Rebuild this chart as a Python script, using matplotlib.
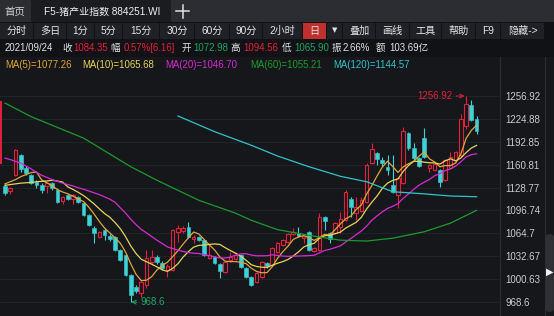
import numpy as np
import pandas as pd
import matplotlib
matplotlib.use('Agg')
import matplotlib.pyplot as plt
from matplotlib.patches import Rectangle, FancyBboxPatch
from matplotlib.lines import Line2D

plt.rcParams['font.family'] = ['Liberation Sans', 'Noto Sans CJK SC', 'DejaVu Sans']

W, H = 554, 316

# daily candles (visible window, 91 days)
opens = [1131, 1124, 1146.4, 1174.4, 1156.2, 1146.4, 1136.6, 1132.4, 1131, 1135.2,
         1125.4, 1110, 1118.4, 1112.8, 1115.6, 1107.2, 1090.4, 1072.2, 1059.6, 1069.4,
         1061, 1059.6, 1041.5, 1034.5, 1006.5, 989.7, 981.3, 992.5, 1024.7, 1031.7,
         1023.3, 1013.5, 1013.5, 1066.6, 1068, 1073.6, 1056.8, 1059.6, 1055.4, 1030.3,
         1031.7, 1021.9, 1010.7, 1027.5, 1028.9, 1034.5, 1016.3, 1003.7, 996.7, 1003.7,
         1023.3, 1020.5, 1038.7, 1048.5, 1052.7, 1063.8, 1065.2, 1058.2, 1066.6, 1040.1,
         1041.5, 1087.6, 1065.2, 1065.2, 1072.98, 1083.4, 1112.8, 1093.2, 1096, 1108.6,
         1163.2, 1177.2, 1167.4, 1157.6, 1132.4, 1118.4, 1135.2, 1205.2, 1184.2, 1170.2,
         1198.2, 1156.2, 1153.4, 1153.4, 1139.4, 1156.2, 1167.4, 1174.4, 1215, 1244.3,
         1224.7]
highs = [1133.8, 1129.6, 1182.8, 1175.8, 1159, 1148, 1139.4, 1135.2, 1136.6, 1136.6,
         1128.2, 1117, 1119.8, 1119.8, 1117, 1108.6, 1092, 1075, 1068, 1072.2,
         1063.8, 1061, 1043, 1036, 1008, 992.5, 999.5, 1041.5, 1041.5, 1034.5,
         1026.1, 1021.9, 1070.8, 1076.4, 1075, 1080.6, 1062.4, 1061, 1056.8, 1048.5,
         1033.1, 1023.3, 1026.1, 1038.7, 1037.3, 1035.9, 1017.7, 1005, 1010.7, 1026.1,
         1024.7, 1045.7, 1052.7, 1056.8, 1065.2, 1072.2, 1073.6, 1062.4, 1068, 1045.7,
         1093.2, 1089, 1066.6, 1080.6, 1094.56, 1125.4, 1115.6, 1115.6, 1115.6, 1163.2,
         1191.2, 1178.6, 1171.6, 1174.4, 1174.4, 1143.6, 1213.6, 1206.6, 1191.2, 1171.6,
         1212.2, 1161.8, 1163.2, 1154.8, 1168.8, 1178.6, 1180, 1231.7, 1256.92, 1252,
         1229]
lows = [1118.4, 1119.8, 1145, 1150.6, 1146.4, 1133.8, 1128.2, 1121.2, 1121.2, 1125.4,
        1107.2, 1105.8, 1111.4, 1105.8, 1107.2, 1089, 1075, 1051.3, 1058.2, 1055.4,
        1054, 1040.1, 1026.1, 1005, 968.6, 981.3, 976, 988, 1020.5, 1021.9,
        1013.5, 1003.7, 1012.1, 1052.7, 1065.2, 1058.2, 1051.3, 1054, 1033.1, 1028.9,
        1021.9, 1002.3, 1009.3, 1024.7, 1027.5, 1016.3, 1002.3, 991, 995.3, 1002.3,
        1016.3, 1019.1, 1037.3, 1047.1, 1051.3, 1062.4, 1059.6, 1051.3, 1040.1, 1038.7,
        1040.1, 1069.4, 1051.3, 1063.8, 1065.9, 1082, 1087.6, 1083.4, 1094.6, 1107.2,
        1161.8, 1160.4, 1159, 1146.4, 1121.2, 1100.2, 1133.8, 1181.4, 1167.4, 1157.6,
        1170.2, 1150.6, 1152, 1129.6, 1138, 1154.8, 1166, 1172, 1211, 1221.9,
        1204]
closes = [1121.2, 1128.2, 1181.4, 1154.8, 1149.2, 1135.2, 1132.4, 1125.4, 1135.2, 1128.2,
          1108.6, 1115.6, 1112.8, 1118.4, 1108.6, 1090.4, 1076.4, 1065.2, 1066.6, 1062.4,
          1056.8, 1041.5, 1027.5, 1006.5, 978.5, 984.1, 996.7, 1030.3, 1031.7, 1024.7,
          1016.3, 1019.1, 1069.4, 1072.2, 1072.2, 1059.6, 1059.6, 1055.4, 1034.5, 1034.5,
          1023.3, 1012.1, 1024.7, 1031.7, 1034.5, 1017.7, 1003.7, 992.5, 1009.3, 1024.7,
          1019.1, 1044.3, 1051.3, 1055.4, 1063.8, 1066.6, 1061, 1061, 1041.5, 1044.3,
          1087.6, 1082, 1056.8, 1079.2, 1084.35, 1122.6, 1101.6, 1101.6, 1111.4, 1160.4,
          1182.8, 1168.8, 1163.2, 1153.4, 1122.6, 1142.2, 1208, 1184.2, 1170.2, 1159,
          1171.6, 1160.4, 1161.8, 1136.6, 1167.4, 1171.6, 1178.6, 1224.7, 1246, 1223.3,
          1208]

# moving-average values before enough visible history exists
ma5_head = [1134, 1137, 1140, 1144]
ma10_head = [1132, 1133, 1134, 1135, 1135.5, 1136, 1137, 1137.5, 1138]
ma20_head = [1170, 1168, 1165.5, 1163, 1159, 1155, 1150, 1146, 1143, 1140,
             1137.5, 1135, 1133, 1131, 1128.5, 1126.5, 1124, 1121.5, 1119]
# long averages
ma60_idx = [0, 5, 15, 24, 29, 37, 44, 47, 52, 58, 64, 69, 74, 80, 85, 90]
ma60_val = [1247, 1228, 1198, 1158, 1139, 1111, 1093, 1083, 1070, 1062, 1055.2, 1054, 1058, 1067, 1079, 1097]
ma120_idx = [33, 40, 47, 52, 58, 64, 69, 74, 80, 85, 90]
ma120_val = [1229, 1207, 1188, 1173, 1158, 1144.6, 1137, 1123, 1120, 1117, 1116]

yticks = [1256.92, 1224.88, 1192.85, 1160.81, 1128.77, 1096.74, 1064.7, 1032.67, 1000.63, 968.6]
ytick_labels = ['1256.92', '1224.88', '1192.85', '1160.81', '1128.77', '1096.74', '1064.7', '1032.67', '1000.63', '968.6']

BG = '#15171b'
RED = '#e3213c'
CYAN = '#3ed2d6'
GREEN_TXT = '#1ea566'
C5, C10, C20, C60, C120 = '#e2a43a', '#e6d35c', '#d62ad4', '#1d9a2c', '#31c3cb'

o = np.array(opens); h = np.array(highs); l = np.array(lows); c = np.array(closes)
idx = np.arange(len(c))
s = pd.Series(c)
ma5 = s.rolling(5).mean().values
ma5[:len(ma5_head)] = ma5_head
ma10 = s.rolling(10).mean().values
ma10[:len(ma10_head)] = ma10_head
ma20 = s.rolling(20).mean().values
ma20[:len(ma20_head)] = ma20_head

fig = plt.figure(figsize=(W / 100, H / 100), dpi=100)
fig.patch.set_facecolor(BG)


def box(x0, y0, x1, y1, color, z=0):
    fig.add_artist(Rectangle((x0 / W, 1 - y1 / H), (x1 - x0) / W, (y1 - y0) / H,
                             transform=fig.transFigure, color=color, lw=0, zorder=z))


def txt(x, y, s, color='#d8d8d8', size=7, ha='left', **kw):
    fig.text(x / W, 1 - y / H, s, color=color, fontsize=size, ha=ha, va='center', **kw)


def vline(x, y0, y1, color, lw=0.8):
    fig.add_artist(Line2D([x / W, x / W], [1 - y0 / H, 1 - y1 / H], transform=fig.transFigure,
                          color=color, lw=lw))


# top tab bar
box(0, 0, W, 22, '#2b2d32')
box(31, 0, 171, 22, '#1a1c20')
txt(15, 11.5, '首页', '#d0d0d0', 7.5, ha='center')
txt(102, 11.5, 'F5-猪产业指数 884251.WI', '#f0f0f0', 7.2, ha='center')
fig.add_artist(Line2D([176 / W, 189 / W], [1 - 11 / H, 1 - 11 / H], transform=fig.transFigure, color='#e0e0e0', lw=1.1))
vline(182.5, 4.5, 17.5, '#e0e0e0', 1.1)

# period / tool buttons
box(0, 22, W, 39, '#101114')
buttons = [(0, 33, '分时'), (34, 66, '多日'), (67, 94, '1分'), (95, 122, '5分'), (123, 159, '15分'),
           (160, 194, '30分'), (195, 229, '60分'), (230, 262, '90分'), (263, 302, '2小时'),
           (303, 326, '日'), (327, 342, '▼'), (343, 375, '叠加'), (376, 409, '画线'),
           (410, 441, '工具'), (442, 475, '帮助'), (476, 500, 'F9'), (501, 544, '隐藏->')]
for x0, x1, name in buttons:
    bg = '#c0302c' if name == '日' else '#1f2126'
    box(x0, 23, x1, 38.5, bg)
    if name == '▼':
        txt((x0 + x1) / 2, 30.5, name, '#e0e0e0', 5, ha='center', family=['DejaVu Sans'])
    else:
        txt((x0 + x1) / 2, 31, name, '#e4e4e4', 7.3, ha='center')

# quote row
box(0, 39, W, 57, '#111215')
W_ = '#e2e2e2'
quote = [(5, '2021/09/24', W_), (62, '收', W_), (73, '1084.35', RED), (110, '幅', W_),
         (124, '0.57%[6.16]', RED), (181, '开', W_), (193, '1072.98', GREEN_TXT),
         (230, '高', W_), (243, '1094.56', RED), (282, '低', W_), (294, '1065.90', GREEN_TXT),
         (332, '振', W_), (343, '2.66%', W_), (376, '额', W_), (389, '103.69亿', W_)]
for x, t, col in quote:
    txt(x, 48, t, col, 6.9)

# MA legend
legend = [(5, 'MA(5)=1077.26', C5), (82, 'MA(10)=1065.68', C10), (165, 'MA(20)=1046.70', C20),
          (250, 'MA(60)=1055.21', C60), (333, 'MA(120)=1144.57', C120)]
for x, t, col in legend:
    txt(x, 64.5, t, col, 6.9)

# price chart
ax = fig.add_axes([0, 0, 499 / W, (H - 75) / H])
ax.set_facecolor(BG)
step = 5.24
ax.set_xlim(-5 / step, 494 / step)
ax.set_ylim(1256.92 - 220 * 1.399, 1256.92 + 21 * 1.399)
for sp in ax.spines.values():
    sp.set_visible(False)
ax.set_xticks([])
ax.yaxis.tick_right()
ax.set_yticks(yticks)
ax.set_yticklabels(ytick_labels)
ax.tick_params(axis='y', length=0, pad=4.5, labelsize=7, labelcolor='#c9ccd1')
ax.grid(axis='y', color='#23262b', lw=0.6)
ax.set_axisbelow(True)

up = c >= o
lo = np.minimum(o, c)
hi = np.maximum(o, c)
hgt = np.maximum(hi - lo, 0.9)
cols = np.where(up, RED, CYAN)
ax.vlines(idx, hi, h, colors=cols, lw=0.8, zorder=2)
ax.vlines(idx, l, lo, colors=cols, lw=0.8, zorder=2)
ax.bar(idx[up], hgt[up], bottom=lo[up], width=0.68, facecolor=BG, edgecolor=RED, linewidth=0.8, zorder=2)
ax.bar(idx[~up], hgt[~up], bottom=lo[~up], width=0.72, facecolor=CYAN, edgecolor=CYAN, linewidth=0.4, zorder=2)

ax.plot(idx, ma5, color=C5, lw=0.9, zorder=3)
ax.plot(idx, ma10, color=C10, lw=0.9, zorder=3)
ax.plot(idx, ma20, color=C20, lw=0.9, zorder=3)
ax.plot(ma60_idx, ma60_val, color=C60, lw=0.9, zorder=3)
ax.plot(ma120_idx, ma120_val, color=C120, lw=0.9, zorder=3)

imax = int(np.argmax(h))
imin = int(np.argmin(l))
ax.annotate(f'{h[imax]:.2f}', xy=(imax - 0.3, h[imax]), xytext=(imax - 2.7, h[imax]),
            color=RED, fontsize=7, ha='right', va='center',
            arrowprops=dict(arrowstyle='->', color=RED, lw=0.7, shrinkA=1, shrinkB=0))
ax.annotate(f'{l[imin]:g}', xy=(imin + 0.1, l[imin]), xytext=(imin + 1.9, l[imin] - 0.5),
            color=GREEN_TXT, fontsize=7, ha='left', va='center',
            arrowprops=dict(arrowstyle='->', color=GREEN_TXT, lw=0.7, shrinkA=1, shrinkB=0))

# panel borders and side widgets
vline(499.5, 57, H, '#2a2d32')
vline(544.5, 57, H, '#2a2d32')
vline(0.8, 102, 163, RED, 1.4)
box(0, 313, 17, 316, '#4a4c50')
fig.add_artist(FancyBboxPatch((545 / W, 1 - 312 / H), 9 / W, 78 / H, boxstyle='round,pad=0,rounding_size=0.01',
                              transform=fig.transFigure, color='#2e3035', lw=0))
txt(549.5, 272, '▶', '#f2f2f2', 7, ha='center', family=['DejaVu Sans'])

fig.savefig('out.png', dpi=100, facecolor=BG)
